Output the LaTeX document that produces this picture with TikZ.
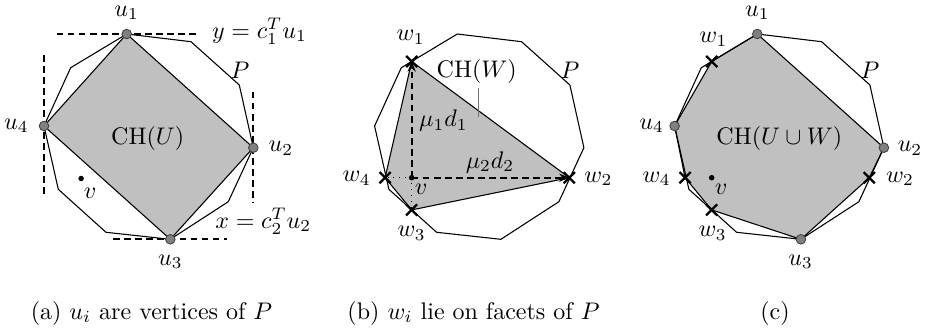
\documentclass[tikz,border=0pt]{standalone}
\usetikzlibrary{arrows.meta,shapes.misc}
\definecolor{hullgray}{RGB}{192,192,192}
\definecolor{ugray}{RGB}{128,128,128}
\tikzset{
  poly/.style={line width=0.45pt, line join=round},
  hull/.style={fill=hullgray, draw=black, line width=0.45pt, line join=round},
  guide/.style={line width=0.8pt, dash pattern=on 2.8pt off 1.8pt},
  uvert/.style={circle, fill=ugray, draw=black!75, line width=0.35pt, inner sep=0pt, minimum size=4pt},
  wmark/.style={cross out, draw=black, line width=0.95pt, inner sep=0pt, minimum size=3.7pt},
  vdot/.style={circle, fill=black, inner sep=0pt, minimum size=2.3pt},
  lbl/.style={inner sep=0pt},
  darrow/.style={line width=0.8pt, dash pattern=on 2.8pt off 1.8pt, -{Stealth[length=4.2pt,width=3.4pt]}},
  dotl/.style={line width=0.4pt, dotted},
}
\begin{document}
\begin{tikzpicture}[x=0.41667pt,y=-0.41667pt]
\useasboundingbox (0,0) rectangle (926,330);
% ---------------- panel (a)
\begin{scope}
\coordinate (a1) at (126.7,34);
\coordinate (a2) at (191,41.7);
\coordinate (a3) at (239.3,85);
\coordinate (a4) at (253.3,147.7);
\coordinate (a5) at (228.3,201.7);
\coordinate (a6) at (170.3,239.3);
\coordinate (a7) at (106,232.3);
\coordinate (a8) at (58.3,189.3);
\coordinate (a9) at (44,126);
\coordinate (a10) at (70.7,67.7);
\path[hull] (a1) -- (a4) -- (a6) -- (a9) -- cycle;
\draw[poly] (a1) -- (a2) -- (a3) -- (a4) -- (a5) -- (a6) -- (a7) -- (a8) -- (a9) -- (a10) -- cycle;
\coordinate (ta) at (56.7,34);  \coordinate (tb) at (196.7,34);
\coordinate (la) at (44,55);    \coordinate (lb) at (44,196.7);
\coordinate (ra) at (253.3,91.7); \coordinate (rb) at (253.3,203.3);
\coordinate (ba) at (113.3,239.3); \coordinate (bb) at (226.7,239.3);
\draw[guide] (ta) -- (tb);
\draw[guide] (la) -- (lb);
\draw[guide] (ra) -- (rb);
\draw[guide] (ba) -- (bb);
\node[uvert] (au1) at (a1) {};
\node[uvert] (au2) at (a4) {};
\node[uvert] (au3) at (a6) {};
\node[uvert] (au4) at (a9) {};
\node[vdot] (av) at (81.1,178.5) {};
\node[lbl] (lau1) at (126.7,13) {$u_1$};
\node[lbl] (lau2) at (281,148.3) {$u_2$};
\node[lbl] (lau3) at (170.3,261.7) {$u_3$};
\node[lbl] (lau4) at (16.5,126) {$u_4$};
\node[lbl] (laP) at (240,70) {$P$};
\node[lbl] (lav) at (90,193.3) {$v$};
\node[lbl] (laCH) at (147.7,138.3) {$\mathrm{CH}(U)$};
\node[lbl, anchor=west] (lay) at (211.7,31) {$y=c_1^Tu_1$};
\node[lbl, anchor=west] (lax) at (215,221) {$x=c_2^Tu_2$};
\node[lbl] (capa) at (151.5,313) {(a) $u_i$ are vertices of $P$};
\end{scope}
% ---------------- panel (b)
\begin{scope}[shift={(330.6,0)}]
\coordinate (b1) at (126.7,34);
\coordinate (b2) at (191,41.7);
\coordinate (b3) at (239.3,85);
\coordinate (b4) at (253.3,147.7);
\coordinate (b5) at (228.3,201.7);
\coordinate (b6) at (170.3,239.3);
\coordinate (b7) at (106,232.3);
\coordinate (b8) at (58.3,189.3);
\coordinate (b9) at (44,126);
\coordinate (b10) at (70.7,67.7);
\coordinate (bw1) at (81.1,61.5);
\coordinate (bw2) at (238.7,177.7);
\coordinate (bw3) at (81.1,209.9);
\coordinate (bw4) at (54.5,177.7);
\coordinate (bv) at (81.1,177.7);
\path[hull] (bw1) -- (bw2) -- (bw3) -- (bw4) -- cycle;
\draw[poly] (b1) -- (b2) -- (b3) -- (b4) -- (b5) -- (b6) -- (b7) -- (b8) -- (b9) -- (b10) -- cycle;
\draw[dotl] (bv) -- (bw4);
\draw[dotl] (bv) -- (bw3);
\draw[darrow] (bv) -- (bw1);
\draw[darrow] (bv) -- (bw2);
\node[wmark] (mbw1) at (bw1) {};
\node[wmark] (mbw2) at (bw2) {};
\node[wmark] (mbw3) at (bw3) {};
\node[wmark] (mbw4) at (bw4) {};
\node[vdot] (mbv) at (bv) {};
\node[lbl] (lbw1) at (80.1,37.3) {$w_1$};
\node[lbl] (lbw2) at (267.7,179) {$w_2$};
\node[lbl] (lbw3) at (81.1,233.3) {$w_3$};
\node[lbl] (lbw4) at (26.1,178.3) {$w_4$};
\node[lbl] (lbv) at (90.4,189.3) {$v$};
\node[lbl] (lbP) at (239.4,70) {$P$};
\node[lbl] (lbCH) at (146.1,71) {$\mathrm{CH}(W)$};
\coordinate (pa) at (147.7,88.3);
\coordinate (pb) at (147.7,116.7);
\draw[line width=0.3pt, black!55] (pa) -- (pb);
\node[lbl] (lbm1) at (112.7,120.7) {$\mu_1d_1$};
\node[lbl] (lbm2) at (159.4,162.3) {$\mu_2d_2$};
\end{scope}
\node[lbl] (capb) at (473.5,313) {(b) $w_i$ lie on facets of $P$};
% ---------------- panel (c)
\begin{scope}[shift={(630.6,0)}]
\coordinate (c1) at (126.7,34);
\coordinate (c2) at (191,41.7);
\coordinate (c3) at (239.3,85);
\coordinate (c4) at (253.3,147.7);
\coordinate (c5) at (228.3,201.7);
\coordinate (c6) at (170.3,239.3);
\coordinate (c7) at (106,232.3);
\coordinate (c8) at (58.3,189.3);
\coordinate (c9) at (44,126);
\coordinate (c10) at (70.7,67.7);
\coordinate (cw1) at (81.1,61.5);
\coordinate (cw2) at (238.7,177.7);
\coordinate (cw3) at (81.1,209.9);
\coordinate (cw4) at (54.5,177.7);
\path[hull] (c1) -- (c4) -- (cw2) -- (c6) -- (cw3) -- (cw4) -- (c9) -- (cw1) -- cycle;
\draw[poly] (c1) -- (c2) -- (c3) -- (c4) -- (c5) -- (c6) -- (c7) -- (c8) -- (c9) -- (c10) -- cycle;
\node[wmark] (mcw1) at (cw1) {};
\node[wmark] (mcw2) at (cw2) {};
\node[wmark] (mcw3) at (cw3) {};
\node[wmark] (mcw4) at (cw4) {};
\node[uvert] (cu1) at (c1) {};
\node[uvert] (cu2) at (c4) {};
\node[uvert] (cu3) at (c6) {};
\node[uvert] (cu4) at (c9) {};
\node[vdot] (cv) at (81.1,177.7) {};
\node[lbl] (lcu1) at (126.7,12.7) {$u_1$};
\node[lbl] (lcw1) at (82.7,39.3) {$w_1$};
\node[lbl] (lcP) at (239.4,70) {$P$};
\node[lbl] (lcu4) at (21.1,126) {$u_4$};
\node[lbl] (lcCH) at (148.7,138.3) {$\mathrm{CH}(U\cup W)$};
\node[lbl] (lcu2) at (279.4,148.3) {$u_2$};
\node[lbl] (lcw2) at (269.4,179) {$w_2$};
\node[lbl] (lcw4) at (26.1,179) {$w_4$};
\node[lbl] (lcv) at (90.4,189.3) {$v$};
\node[lbl] (lcw3) at (82.1,233.3) {$w_3$};
\node[lbl] (lcu3) at (170.1,261.7) {$u_3$};
\end{scope}
\node[lbl] (capc) at (775,313) {(c)};
\end{tikzpicture}
\end{document}
